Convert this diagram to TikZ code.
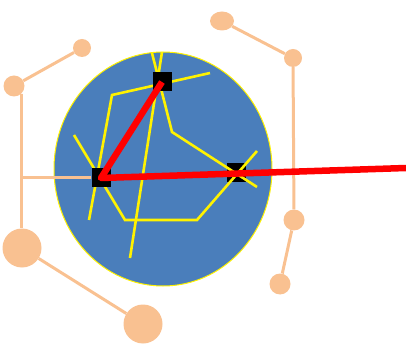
\documentclass[tikz,border=0pt]{standalone}
\usepackage{xcolor}
\usepackage{tikz}
\usetikzlibrary{shapes.geometric, calc}

\definecolor{discblue}{HTML}{4A7EBB}
\definecolor{peach}{HTML}{F9C191}

\begin{document}
\begin{tikzpicture}[x=1pt, y=-1pt,
  disc/.style={ellipse, draw=yellow, fill=discblue, line width=1pt,
    minimum width=218pt, minimum height=234pt, inner sep=0pt},
  ball/.style={circle, fill=peach, inner sep=0pt},
  link/.style={draw=peach, line width=3pt},
  sq/.style={rectangle, fill=black, minimum size=19pt, inner sep=0pt},
  ray/.style={draw=red, line width=6.5pt, line join=round},
  trace/.style={draw=yellow, line width=2.6pt}
]
\useasboundingbox (0,0) rectangle (406,344);

%% --- Disc ---
\node[disc] (dsk) at (163,169) {};

%% --- Peach balls ---
\node[ball, ellipse, minimum width=24pt, minimum height=19pt] (rc1) at (222,21) {};
\node[ball, minimum size=18pt] (rc2) at (293,58)  {};
\node[ball, minimum size=21pt] (rc3) at (294,220) {};
\node[ball, minimum size=21pt] (rc4) at (280,284) {};
\node[ball, minimum size=18pt] (lc1) at (82,48)   {};
\node[ball, minimum size=21pt] (lc2) at (14,86)   {};
\node[ball, minimum size=39pt] (lc3) at (22,248)  {};
\node[ball, minimum size=39pt] (lc4) at (143,324) {};

%% --- Black squares (right one under the traces) ---
\node[sq] (rsq) at (236,173) {};

%% --- Yellow traces ---
\draw[trace] (152,53) -- (172,132) -- (257,187);
\draw[trace] (162,52) -- (130,258);
\draw[trace] (210,73) -- (112,95) -- (89,220);
\draw[trace] (257,151) -- (197,220) -- (125,220) -- (74,135);

\node[sq] (tsq) at (162,82)  {};
\node[sq] (lsq) at (101,178) {};

%% --- Peach links ---
\draw[link] (rc1) -- (rc2);
\draw[link] (rc2) -- (rc3);
\draw[link] (rc3) -- (rc4);
\draw[link] (lc1) -- (lc2);
\draw[link] (lc2.-45) |- (lsq);
\draw[link] (lc2.-45) -- (lc2.-45 |- lc3.north);
\draw[link] (lc3) -- (lc4);

%% --- Red rays ---
\coordinate (edge) at (406,168);
\draw[ray] (tsq.center) -- (lsq.center) -- (edge);

\end{tikzpicture}
\end{document}
